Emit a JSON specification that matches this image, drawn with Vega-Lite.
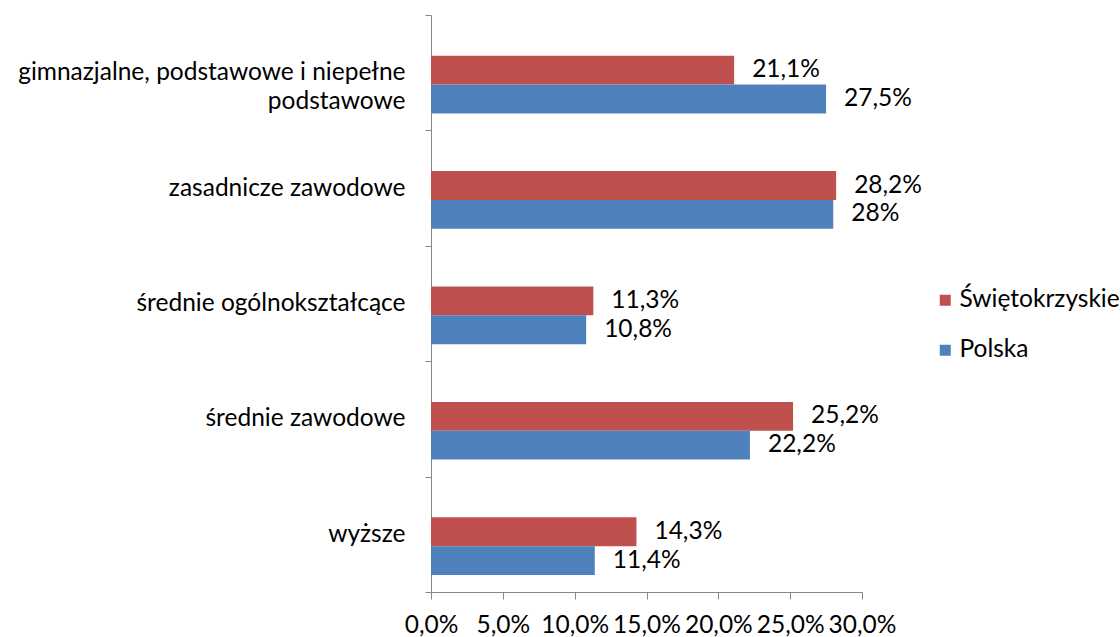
{
  "$schema": "https://vega.github.io/schema/vega-lite/v6.json",
  "width": 431,
  "height": 577,
  "autosize": {"type": "none"},
  "padding": {"left": 431, "top": 15, "right": 258, "bottom": 45},
  "background": "white",
  "config": {
    "view": {"stroke": null},
    "font": "Lato"
  },
  "data": {
    "values": [
      {"kategoria": "gimnazjalne, podstawowe i niepełne podstawowe", "region": "Świętokrzyskie", "udzial": 0.211},
      {"kategoria": "gimnazjalne, podstawowe i niepełne podstawowe", "region": "Polska", "udzial": 0.275},
      {"kategoria": "zasadnicze zawodowe", "region": "Świętokrzyskie", "udzial": 0.282},
      {"kategoria": "zasadnicze zawodowe", "region": "Polska", "udzial": 0.28},
      {"kategoria": "średnie ogólnokształcące", "region": "Świętokrzyskie", "udzial": 0.113},
      {"kategoria": "średnie ogólnokształcące", "region": "Polska", "udzial": 0.108},
      {"kategoria": "średnie zawodowe", "region": "Świętokrzyskie", "udzial": 0.252},
      {"kategoria": "średnie zawodowe", "region": "Polska", "udzial": 0.222},
      {"kategoria": "wyższe", "region": "Świętokrzyskie", "udzial": 0.143},
      {"kategoria": "wyższe", "region": "Polska", "udzial": 0.114}
    ]
  },
  "encoding": {
    "y": {
      "field": "kategoria",
      "type": "nominal",
      "sort": null,
      "title": null,
      "scale": {"paddingInner": 0, "paddingOuter": 0},
      "axis": {
        "domainColor": "#868686",
        "tickColor": "#868686",
        "tickSize": 6,
        "tickBand": "extent",
        "labelFontSize": 24.5,
        "labelColor": "#000000",
        "labelLimit": 500,
        "labelPadding": 20,
        "labelLineHeight": 29,
        "labelExpr": "datum.value === 'gimnazjalne, podstawowe i niepełne podstawowe' ? ['gimnazjalne, podstawowe i niepełne', 'podstawowe'] : datum.label"
      }
    },
    "yOffset": {
      "field": "region",
      "type": "nominal",
      "sort": ["Świętokrzyskie", "Polska"],
      "scale": {"paddingInner": 0, "paddingOuter": 1.18, "align": 0.705}
    },
    "x": {
      "field": "udzial",
      "type": "quantitative",
      "title": null,
      "scale": {"domain": [0, 0.3], "nice": false},
      "axis": {
        "values": [0, 0.05, 0.1, 0.15, 0.2, 0.25, 0.3],
        "labelExpr": "replace(format(datum.value, '.1%'), '.', ',')",
        "grid": false,
        "domainColor": "#868686",
        "tickColor": "#868686",
        "tickSize": 7,
        "labelFontSize": 24.5,
        "labelColor": "#000000",
        "labelPadding": 14,
        "labelFlush": false,
        "labelOverlap": false
      }
    }
  },
  "layer": [
    {
      "mark": {"type": "bar"},
      "encoding": {
        "color": {
          "field": "region",
          "type": "nominal",
          "sort": ["Świętokrzyskie", "Polska"],
          "scale": {"domain": ["Świętokrzyskie", "Polska"], "range": ["#C0504D", "#4F81BD"]},
          "legend": {
            "title": null,
            "orient": "none",
            "legendX": 502,
            "legendY": 273,
            "symbolType": "square",
            "symbolSize": 121,
            "labelFontSize": 24.5,
            "labelColor": "#000000",
            "labelOffset": 2,
            "rowPadding": 25,
            "labelLimit": 300
          }
        }
      }
    },
    {
      "mark": {
        "type": "text",
        "align": "left",
        "baseline": "middle",
        "dx": 18,
        "fontSize": 24.5,
        "color": "#000000",
        "text": {"expr": "replace(format(datum.udzial, '.1~%'), '.', ',')"}
      },
      "encoding": {}
    }
  ]
}
